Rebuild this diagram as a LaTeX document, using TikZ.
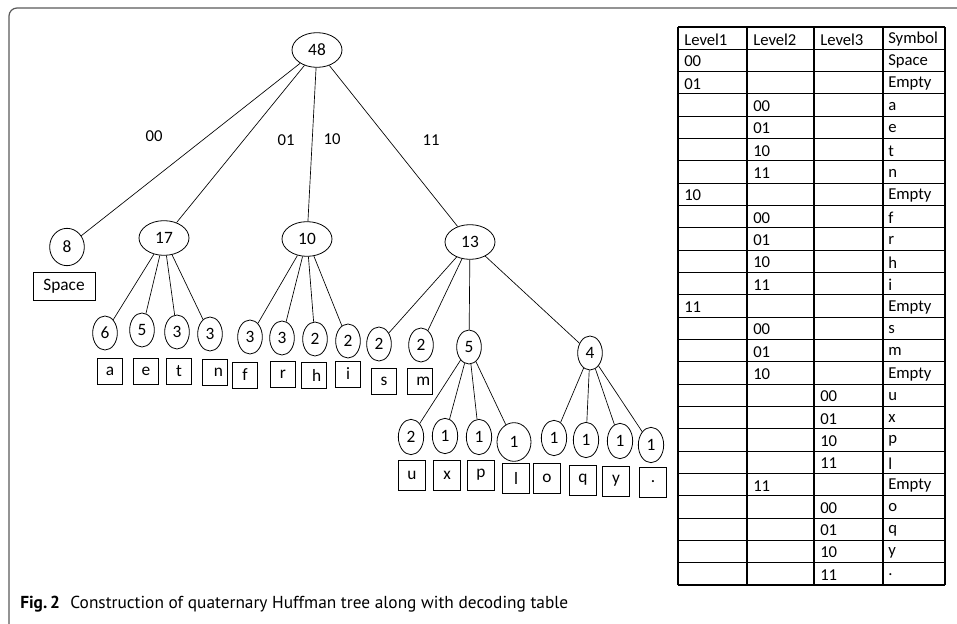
\documentclass[tikz,border=0pt]{standalone}
\usepackage{fontspec}
\setmainfont{Carlito}
\newfontfamily\capfont{PT Sans}
\usetikzlibrary{shapes.geometric}
\tikzset{
  ell/.style={draw, ellipse, inner sep=0pt, line width=0.6pt, font=\fontsize{13}{15}\selectfont},
  bigell/.style={ell, minimum width=37.5pt, minimum height=26pt},
  smell/.style={ell, minimum width=18.5pt, minimum height=25.5pt},
  lowell/.style={ell, minimum width=19pt, minimum height=26.5pt},
  leafbox/.style={draw, rectangle, inner sep=0pt, line width=0.6pt, minimum width=19pt, minimum height=19.5pt, font=\fontsize{13}{15}\selectfont},
  lowbox/.style={leafbox, minimum width=20pt, minimum height=22.5pt},
  edge/.style={line width=0.5pt},
  elabel/.style={font=\fontsize{12.5}{14}\selectfont},
  cell/.style={anchor=west, inner sep=0pt, font=\fontsize{12.5}{14}\selectfont},
  grid/.style={line width=0.8pt},
}
\begin{document}
\begin{tikzpicture}[x=0.75pt,y=-0.75pt]
\useasboundingbox (0,0) rectangle (957,624);
% frame
\draw[black!65, line width=0.9pt, rounded corners=6pt] (9,624) -- (9,8) -- (957,8);

% tree nodes
\node[bigell] (r48) at (317,50) {48};
\node[ell, minimum width=26pt, minimum height=28pt] (n8) at (67,247) {8};
\node[leafbox, minimum width=46.5pt, minimum height=21pt] (bsp) at (64,286) {Space};
\node[bigell] (n17) at (164,238) {17};
\node[bigell] (n10) at (307,239) {10};
\node[bigell] (n13) at (470,242) {13};

\node[smell] (a6) at (105,333) {6};
\node[smell] (e5) at (142,330) {5};
\node[smell] (t3) at (177,332) {3};
\node[smell] (nn3) at (210,334) {3};
\node[smell] (f3) at (250,337) {3};
\node[smell] (r3) at (282,338) {3};
\node[smell] (h2) at (315,339) {2};
\node[smell] (i2) at (348,341) {2};
\node[smell] (s2) at (379,344) {2};
\node[smell] (m2) at (421,345) {2};
\node[smell] (n5) at (469,347) {5};
\node[smell] (n4) at (590,353) {4};

\node[lowell] (u2) at (411,437) {2};
\node[lowell] (x1) at (445,436) {1};
\node[lowell] (p1) at (479,437) {1};
\node[ell, minimum width=25.5pt, minimum height=29pt] (l1) at (514,442) {1};
\node[lowell] (o1) at (554,438) {1};
\node[lowell] (q1) at (586,440) {1};
\node[lowell] (y1) at (620,441) {1};
\node[lowell] (d1) at (651,445) {1};

% leaf boxes
\node[leafbox] (ba) at (110,371) {a};
\node[leafbox] (be) at (146,371) {e};
\node[leafbox] (bt) at (179,371) {t};
\node[leafbox] (bn) at (215,372) {\hspace*{5pt}n};
\node[leafbox] (bf) at (245,375) {f};
\node[leafbox] (br) at (283,374) {r};
\node[leafbox] (bh) at (314,375) {\hspace*{4pt}h};
\node[leafbox] (bi) at (348,374) {i};
\node[leafbox] (bs) at (384,381) {s};
\node[leafbox] (bm) at (420,381) {\hspace*{5pt}m};
\node[lowbox] (bu) at (412,475) {u};
\node[lowbox] (bx) at (447,475) {x};
\node[lowbox] (bp) at (481,475) {p};
\node[lowbox] (bl) at (516,478) {l};
\node[lowbox] (bo) at (547,478) {o};
\node[lowbox] (bq) at (583,480) {q};
\node[lowbox] (by) at (616,481) {y};
\node[lowbox] (bdot) at (653,482) {.};

% edges
\draw[edge] (r48) -- (n8);
\draw[edge] (r48) -- (n17);
\draw[edge] (r48) -- (n10);
\draw[edge] (r48) -- (n13);
\foreach \c in {a6,e5,t3,nn3} \draw[edge] (n17) -- (\c);
\foreach \c in {f3,r3,h2,i2} \draw[edge] (n10) -- (\c);
\foreach \c in {s2,m2,n5,n4} \draw[edge] (n13) -- (\c);
\foreach \c in {u2,x1,p1,l1} \draw[edge] (n5) -- (\c);
\foreach \c in {o1,q1,y1,d1} \draw[edge] (n4) -- (\c);

% edge labels
\node[elabel] (l00) at (154,136) {00};
\node[elabel] (l01) at (286,140) {01};
\node[elabel] (l10) at (332,139) {10};
\node[elabel] (l11) at (431,140) {11};

% table
\def\ttop{27}
\def\rh{22.32}
\foreach \k in {0,...,25} \draw[grid] (678,{\ttop+\k*\rh}) -- (945,{\ttop+\k*\rh});
\foreach \xx in {678,747,814,883,945} \draw[grid] (\xx,\ttop) -- (\xx,{\ttop+25*\rh});
\foreach \a/\b/\c/\d [count=\i from 0] in {
  Level1/Level2/Level3/Symbol,
  00///Space, 01///Empty,
  /00//a, /01//e, /10//t, /11//n,
  10///Empty,
  /00//f, /01//r, /10//h, /11//i,
  11///Empty,
  /00//s, /01//m, /10//Empty,
  //00/u, //01/x, //10/p, //11/l,
  /11//Empty,
  //00/o, //01/q, //10/y, //11/.}
{
  \node[cell] (ta\i) at (684,{\ttop+(\i+0.55)*\rh}) {\a};
  \node[cell] (tb\i) at (753,{\ttop+(\i+0.55)*\rh}) {\b};
  \node[cell] (tc\i) at (820,{\ttop+(\i+0.55)*\rh}) {\c};
  \node[cell] (td\i) at (888,{\ttop+(\i+0.55)*\rh}) {\d};
}

% caption
\node[anchor=west, inner sep=0pt, font=\capfont\fontsize{13}{15}\selectfont] (cap) at (20,604)
  {\textbf{Fig.\,2}\hspace{0.6em}Construction of quaternary Huffman tree along with decoding table};
\end{tikzpicture}
\end{document}
